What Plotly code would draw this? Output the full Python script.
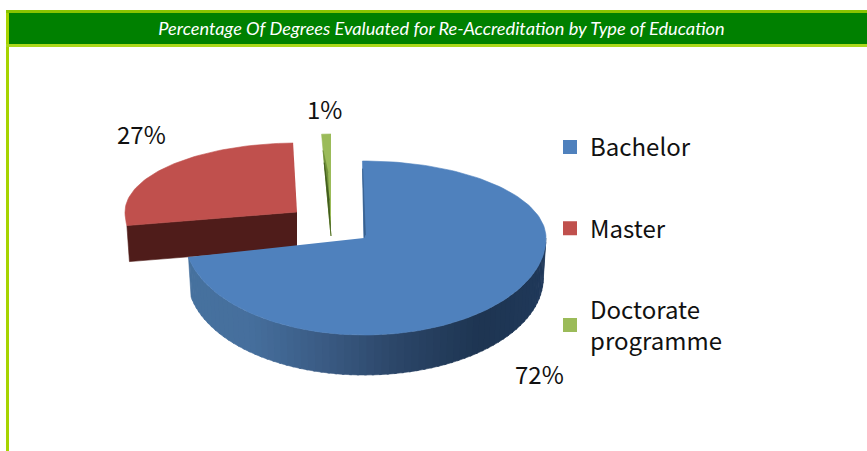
import math
import plotly.graph_objects as go

# ---- data ----
categories = ["Bachelor", "Master", "Doctorate<br>programme"]
values = [72, 27, 1]
pct_labels = ["72%", "27%", "1%"]
title_text = "Percentage Of Degrees Evaluated for Re-Accreditation by Type of Education"
top_colors = ["#4f81bd", "#c0504d", "#9bbb59"]
cut_colors = ["#38608f", "#4f1c1a", "#3f5a1e"]

# exploded 3-D look: apex, radii (left, right, up, down), depth, angular tweak
apex = [(364, 238), (297, 212), (331, 236)]
rx_left = [179, 172, 150]
rx_right = [182, 172, 150]
ry_up = [77, 69, 102]
ry_down = [97, 92, 100]
depth = [40, 36, 0]
tweak = [-0.5, 2.3, 0]
label_xy = [(539, 373), (141, 133), (324, 108)]

side_stops = [(188, "#47729f"), (250, "#466f9d"), (320, "#3b5c85"), (400, "#2b4567"),
              (480, "#1e3552"), (546, "#20395a")]


def rim(i, t):
    a = math.radians(t)
    s, c = math.sin(a), math.cos(a)
    ax, ay = apex[i]
    return (ax + (rx_right[i] if s > 0 else rx_left[i]) * s,
            ay - (ry_up[i] if c > 0 else ry_down[i]) * c)


def drop(i, p):
    ax = apex[i][0]
    return (ax + (p[0] - ax) * 0.985, p[1] + depth[i])


def lerp(p, q, f):
    return (p[0] + (q[0] - p[0]) * f, p[1] + (q[1] - p[1]) * f)


def hex2rgb(h):
    return tuple(int(h[k:k + 2], 16) for k in (1, 3, 5))


def side_color(x):
    for (x0, c0), (x1, c1) in zip(side_stops, side_stops[1:]):
        if x <= x1:
            f = max(0, (x - x0) / (x1 - x0))
            a, b = hex2rgb(c0), hex2rgb(c1)
            return "rgb(%d,%d,%d)" % tuple(a[k] + (b[k] - a[k]) * f for k in range(3))
    return side_stops[-1][1]


def poly(xy, color):
    return go.Scatter(x=[p[0] for p in xy], y=[p[1] for p in xy], mode="lines", fill="toself",
                      fillcolor=color, line=dict(width=0.6, color=color), hoverinfo="skip",
                      showlegend=False)


# sweep ranges from the values
starts, ends, acc = [], [], 0.0
for v in values:
    starts.append(acc * 3.6)
    acc += v
    ends.append(acc * 3.6)

fig = go.Figure()

# Master: cut face then top
i = 1
t0, t1 = starts[i] + tweak[i], ends[i] + tweak[i]
edge = rim(i, t0)
tip = apex[i]
fig.add_trace(poly([tip, edge, drop(i, edge), drop(i, tip)], cut_colors[i]))
n = 60
fig.add_trace(poly([tip] + [rim(i, t0 + (t1 - t0) * k / n) for k in range(n + 1)], top_colors[i]))

# Doctorate: thin wedge with a dark inner shade
i = 2
t0, t1 = starts[i], ends[i]
left, right = rim(i, t0), rim(i, t1)
fig.add_trace(poly([apex[i], left, right], top_colors[i]))
centre = lerp(left, right, 0.5)
fig.add_trace(poly([apex[i], lerp(apex[i], left, 0.84), lerp(apex[i], centre, 0.62)], "#6f8f38"))
fig.add_trace(poly([apex[i], lerp(apex[i], left, 0.72), lerp(apex[i], centre, 0.35)], cut_colors[i]))

# Bachelor: shaded side, then top
i = 0
t0, t1 = starts[i] + tweak[i], ends[i] + tweak[i]
n = 70
lo, hi = 90.0, t1
for k in range(n):
    a = lo + (hi - lo) * k / n
    b = min(lo + (hi - lo) * (k + 1.3) / n, hi)
    pa, pb = rim(i, a), rim(i, b)
    fig.add_trace(poly([pa, pb, drop(i, pb), drop(i, pa)], side_color((pa[0] + pb[0]) / 2)))
n = 160
fig.add_trace(poly([apex[i]] + [rim(i, t0 + (t1 - t0) * k / n) for k in range(n + 1)], top_colors[i]))
first = rim(i, t0)
fig.add_trace(poly([apex[i], lerp(apex[i], first, 0.9), (apex[i][0] + 1.5, apex[i][1] - 3)], cut_colors[i]))

# legend entries
for c, col in zip(categories, top_colors):
    fig.add_trace(go.Scatter(x=[None], y=[None], mode="markers", name=c, legendgroup=c,
                             marker=dict(symbol="square", size=16, color=col,
                                         line=dict(width=2, color=col))))

annotations = [dict(x=x, y=y, text=t, showarrow=False, xanchor="center", yanchor="middle",
                    font=dict(family="Noto Sans CJK JP", size=24, color="#111111"))
               for (x, y), t in zip(label_xy, pct_labels)]

shapes = [
    dict(type="rect", x0=6, x1=9, y0=10, y1=451, fillcolor="#a6d400", line_width=0, layer="below"),
    dict(type="rect", x0=6, x1=867, y0=10, y1=13, fillcolor="#88c400", line_width=0, layer="below"),
    dict(type="rect", x0=9, x1=867, y0=13, y1=44, fillcolor="#008000", line_width=0, layer="below"),
    dict(type="rect", x0=6, x1=867, y0=44, y1=47, fillcolor="#acd81c", line_width=0, layer="below"),
]

fig.update_layout(
    width=867, height=451, margin=dict(l=0, r=0, t=0, b=0),
    paper_bgcolor="white", plot_bgcolor="white",
    title=dict(text=title_text, x=441.5 / 867, y=1 - 29 / 451, xanchor="center", yanchor="middle",
               font=dict(family="Lato", size=18.2, color="white", style="italic")),
    xaxis=dict(range=[0, 867], visible=False, fixedrange=True),
    yaxis=dict(range=[451, 0], visible=False, fixedrange=True),
    showlegend=True,
    legend=dict(x=559 / 867, y=1 - 125 / 451, xanchor="left", yanchor="top", tracegroupgap=47,
                indentation=-9, bgcolor="rgba(0,0,0,0)", itemsizing="constant",
                font=dict(family="Noto Sans CJK JP", size=24, color="#111111")),
    shapes=shapes, annotations=annotations,
)
fig.write_html("out.html", config=dict(displayModeBar=False),
               post_script="document.body.style.margin='0';")
